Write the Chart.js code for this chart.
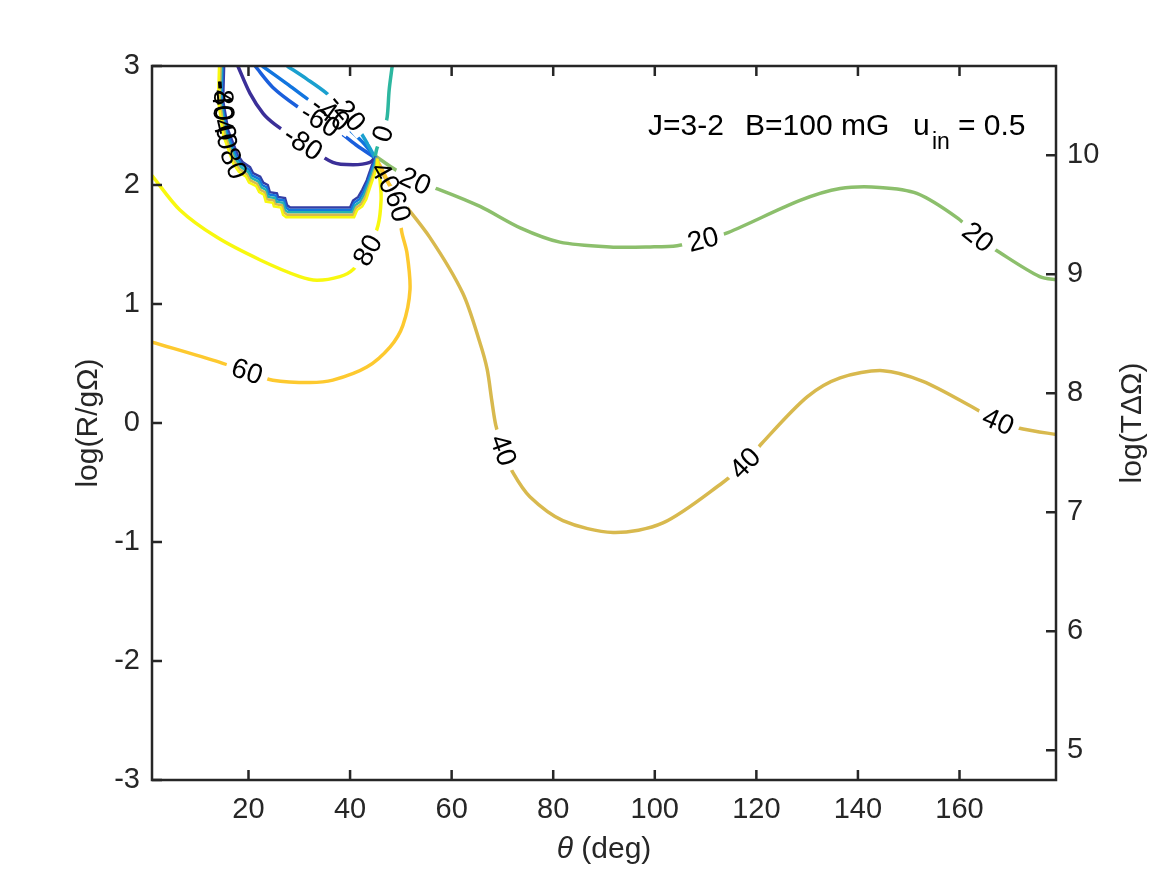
<!DOCTYPE html>
<html lang="en">
<head>
<meta charset="UTF-8">
<title>J=3-2 contours</title>
<script src="https://cdn.jsdelivr.net/npm/chart.js@4"></script>
<style>
    body { margin: 0; background: #fff; }
    canvas { display: block; }
</style>
</head>
<body>
<canvas id="plot" width="1167" height="875" style="width:1167px;height:875px"></canvas>
<script>
// tick positions
const xTicks = [20, 40, 60, 80, 100, 120, 140, 160];
const yTicks = [-3, -2, -1, 0, 1, 2, 3];
const y2Ticks = [5, 6, 7, 8, 9, 10];

// contour lines: x = theta (deg), y = log(R/gOmega)
const c20X = [45.1, 48.5, 52.8, 57.7, 65.6, 73.5, 81.3, 91.2, 99.1, 104.4, 109.5, 114.4, 128.6, 136.5, 144.3, 151.6, 159.7, 163.6, 168.0, 175.8, 179.5];
const c20Y = [2.24, 2.14, 2.03, 1.96, 1.82, 1.64, 1.52, 1.48, 1.48, 1.49, 1.54, 1.60, 1.87, 1.97, 1.98, 1.93, 1.72, 1.56, 1.43, 1.23, 1.20];

const c40X = [45.1, 46.9, 49.2, 55.7, 62.2, 65.6, 67.0, 67.9, 68.7, 70.1, 72.1, 75.4, 81.9, 91.8, 101.6, 113.4, 117.8, 121.1, 130.0, 136.5, 144.9, 152.8, 162.7, 167.6, 172.5, 179.5];
const c40Y = [2.23, 2.06, 1.92, 1.56, 1.09, 0.67, 0.45, 0.19, -0.02, -0.23, -0.42, -0.62, -0.82, -0.92, -0.84, -0.50, -0.34, -0.17, 0.22, 0.38, 0.44, 0.35, 0.13, 0.01, -0.05, -0.10];

const c60X = [1.0, 14.4, 19.7, 24.8, 32.1, 36.6, 43.3, 47.9, 50.4, 51.8, 51.2, 50.2, 49.4, 46.9, 45.3];
const c60Y = [0.68, 0.51, 0.43, 0.36, 0.34, 0.36, 0.47, 0.64, 0.82, 1.12, 1.43, 1.60, 1.82, 2.08, 2.21];

const c80X = [1.0, 6.5, 13.8, 22.3, 30.1, 33.5, 38.0, 40.6, 43.5, 45.5, 46.1, 45.9, 45.3];
const c80Y = [2.08, 1.79, 1.56, 1.37, 1.23, 1.20, 1.23, 1.29, 1.45, 1.66, 1.87, 2.04, 2.19];

// the fan of negative levels in the upper left
const m80X = [17.9, 20.3, 22.9, 25.2, 30.7, 36.6, 40.6, 43.9, 45.1];
const m80Y = [3.00, 2.77, 2.60, 2.51, 2.35, 2.19, 2.17, 2.19, 2.24];
const m60X = [21.3, 24.8, 29.6, 34.1, 38.0, 41.4, 44.9];
const m60Y = [3.00, 2.82, 2.66, 2.54, 2.44, 2.33, 2.23];
const m40X = [22.7, 27.6, 31.7, 36.1, 40.0, 42.9, 44.9];
const m40Y = [3.00, 2.85, 2.72, 2.60, 2.46, 2.34, 2.23];
const m20X = [27.6, 31.5, 35.1, 39.4, 42.4, 43.9, 44.9];
const m20Y = [3.00, 2.89, 2.78, 2.61, 2.42, 2.31, 2.23];
const z0X = [48.3, 47.7, 47.3, 46.5, 45.3, 44.9];
const z0Y = [3.00, 2.80, 2.57, 2.43, 2.31, 2.23];

// stacked lines along the stepped boundary
const bM80X = [15.2, 15.0, 16.0, 17.9, 18.9, 20.3, 20.9, 22.3, 22.9, 23.8, 24.2, 25.6, 25.8, 27.2, 27.6, 28.2, 40.0, 40.6, 41.6, 42.4, 43.3, 44.5, 45.1];
const bM80Y = [3.00, 2.71, 2.46, 2.25, 2.19, 2.15, 2.10, 2.07, 2.02, 2.00, 1.94, 1.93, 1.90, 1.89, 1.83, 1.81, 1.81, 1.87, 1.90, 1.96, 2.04, 2.19, 2.24];
const bM40X = [14.9, 14.7, 15.7, 17.6, 18.7, 20.1, 20.7, 22.1, 22.7, 23.6, 24.0, 25.4, 25.6, 27.0, 27.4, 28.0, 40.2, 40.8, 41.8, 42.6, 43.5, 44.7, 45.2];
const bM40Y = [3.00, 2.71, 2.45, 2.24, 2.17, 2.13, 2.08, 2.05, 2.00, 1.98, 1.92, 1.91, 1.88, 1.87, 1.81, 1.79, 1.79, 1.85, 1.88, 1.94, 2.03, 2.18, 2.24];
const b0X = [14.7, 14.5, 15.5, 17.4, 18.5, 19.9, 20.5, 21.9, 22.5, 23.4, 23.8, 25.2, 25.4, 26.8, 27.2, 27.8, 40.4, 41.0, 42.0, 42.8, 43.7, 44.9, 45.2];
const b0Y = [3.00, 2.71, 2.44, 2.22, 2.15, 2.11, 2.06, 2.03, 1.98, 1.96, 1.90, 1.89, 1.86, 1.85, 1.79, 1.77, 1.77, 1.83, 1.86, 1.92, 2.02, 2.17, 2.23];
const b40X = [14.5, 14.3, 15.3, 17.2, 18.3, 19.7, 20.3, 21.7, 22.3, 23.2, 23.6, 25.0, 25.2, 26.6, 27.0, 27.6, 40.6, 41.2, 42.2, 43.0, 43.9, 45.1, 45.3];
const b40Y = [3.00, 2.71, 2.43, 2.20, 2.13, 2.09, 2.04, 2.01, 1.96, 1.94, 1.88, 1.87, 1.84, 1.83, 1.77, 1.75, 1.75, 1.81, 1.84, 1.90, 2.01, 2.16, 2.23];
const b80X = [14.2, 14.0, 15.0, 17.0, 18.1, 19.5, 20.1, 21.5, 22.1, 23.0, 23.4, 24.8, 25.0, 26.4, 26.8, 27.4, 40.8, 41.4, 42.4, 43.2, 44.1, 45.3, 45.4];
const b80Y = [3.00, 2.71, 2.42, 2.18, 2.11, 2.07, 2.02, 1.99, 1.94, 1.92, 1.86, 1.85, 1.82, 1.81, 1.75, 1.73, 1.73, 1.79, 1.82, 1.88, 2.00, 2.15, 2.22];

// contour labels: [line, point index, text, break the line]
const contourLabels = [
    ['c20', 2, '20', true], ['c20', 10, '20', true], ['c20', 17, '20', true],
    ['c40', 1, '40', false], ['c40', 9, '40', true], ['c40', 16, '40', true], ['c40', 23, '40', true],
    ['c60', 2, '60', true], ['c60', 12, '60', true],
    ['c80', 8, '80', true],
    ['m80', 4, '-80', true], ['m60', 3, '-60', true], ['m40', 3, '-40', true], ['m20', 3, '-20', true], ['z0', 3, '0', true],
    ['bM80', 1, '-80', false], ['bM40', 1, '-40', false], ['b0', 2, '0', false], ['b40', 2, '40', false], ['b80', 3, '80', false]
];

const lines = {
    b80: [b80X, b80Y], b40: [b40X, b40Y], b0: [b0X, b0Y], bM40: [bM40X, bM40Y], bM80: [bM80X, bM80Y],
    c80: [c80X, c80Y], c60: [c60X, c60Y], c40: [c40X, c40Y], c20: [c20X, c20Y],
    z0: [z0X, z0Y], m20: [m20X, m20Y], m40: [m40X, m40Y], m60: [m60X, m60Y], m80: [m80X, m80Y]
};

// line colours (parula-like)
const colours = {
    b80: '#f8f80f', b40: '#d8b94e', b0: '#27b4b0', bM40: '#1477de', bM80: '#343fa6',
    c80: '#f8f80f', c60: '#fdc92f', c40: '#d8b94e', c20: '#8cbf6c',
    z0: '#2db7a0', m20: '#1aa0cf', m40: '#1275df', m60: '#1a5fdc', m80: '#3b2f98'
};

const FONT = "'Liberation Sans', Arial, Helvetica, sans-serif";
const INK = '#262626';

const datasets = Object.keys(lines).map(key => {
    const [xs, ys] = lines[key];
    const stepped = key.charAt(0) === 'b';
    return {
        label: key,
        data: xs.map((x, i) => ({ x: x, y: ys[i] })),
        showLine: true,
        borderColor: colours[key],
        borderWidth: stepped ? 2.5 : 3.5,
        pointRadius: 0,
        tension: stepped ? 0 : 0.3
    };
});

const decor = {
    id: 'decor',
    afterDatasetsDraw(chart) {
        const ctx = chart.ctx;
        const sx = chart.scales.x, sy = chart.scales.y;
        ctx.save();
        ctx.font = '28px ' + FONT;
        const placed = contourLabels.map(([key, i, txt, gap]) => {
            const [xs, ys] = lines[key];
            const px = sx.getPixelForValue(xs[i]), py = sy.getPixelForValue(ys[i]);
            const dx = sx.getPixelForValue(xs[i + 1]) - sx.getPixelForValue(xs[i - 1]);
            const dy = sy.getPixelForValue(ys[i + 1]) - sy.getPixelForValue(ys[i - 1]);
            let ang = Math.atan2(dy, dx);
            if (ang > Math.PI / 2) ang -= Math.PI;
            if (ang <= -Math.PI / 2) ang += Math.PI;
            return { px, py, ang, txt, gap };
        });
        // white gaps first, then the text, so no box hides a label
        placed.forEach(l => {
            if (!l.gap) return;
            const w = ctx.measureText(l.txt).width;
            ctx.save();
            ctx.translate(l.px, l.py);
            ctx.rotate(l.ang);
            ctx.fillStyle = '#fff';
            ctx.fillRect(-w / 2 - 6, -10, w + 12, 20);
            ctx.restore();
        });
        placed.forEach(l => {
            ctx.save();
            ctx.translate(l.px, l.py);
            ctx.rotate(l.ang);
            ctx.fillStyle = '#000';
            ctx.textAlign = 'center';
            ctx.textBaseline = 'middle';
            ctx.fillText(l.txt, 0, 1);
            ctx.restore();
        });
        ctx.restore();
    },
    afterDraw(chart) {
        const ctx = chart.ctx;
        const a = chart.chartArea;
        const sx = chart.scales.x, sy = chart.scales.y, sy2 = chart.scales.y2;
        const tick = 10;
        ctx.save();
        ctx.strokeStyle = INK;
        ctx.lineWidth = 2.5;
        ctx.strokeRect(a.left, a.top, a.right - a.left, a.bottom - a.top);
        ctx.beginPath();
        xTicks.forEach(v => {
            const p = sx.getPixelForValue(v);
            ctx.moveTo(p, a.bottom); ctx.lineTo(p, a.bottom - tick);
            ctx.moveTo(p, a.top); ctx.lineTo(p, a.top + tick);
        });
        yTicks.forEach(v => {
            const p = sy.getPixelForValue(v);
            ctx.moveTo(a.left, p); ctx.lineTo(a.left + tick, p);
        });
        y2Ticks.forEach(v => {
            const p = sy2.getPixelForValue(v);
            ctx.moveTo(a.right, p); ctx.lineTo(a.right - tick, p);
        });
        ctx.stroke();

        // axis titles
        ctx.fillStyle = INK;
        ctx.font = '30px ' + FONT;
        ctx.textBaseline = 'alphabetic';
        ctx.textAlign = 'center';
        ctx.save();
        ctx.translate(a.left - 55, (a.top + a.bottom) / 2);
        ctx.rotate(-Math.PI / 2);
        ctx.fillText('log(R/g\u03A9)', 0, 0);
        ctx.restore();
        ctx.save();
        ctx.translate(a.right + 85, (a.top + a.bottom) / 2);
        ctx.rotate(-Math.PI / 2);
        ctx.fillText('log(T\u0394\u03A9)', 0, 0);
        ctx.restore();

        const cx = (a.left + a.right) / 2;
        ctx.textAlign = 'left';
        ctx.font = 'italic 30px ' + FONT;
        const wTheta = ctx.measureText('\u03B8 ').width;
        ctx.font = '30px ' + FONT;
        const wRest = ctx.measureText('(deg)').width;
        const x0 = cx - (wTheta + wRest) / 2;
        ctx.font = 'italic 30px ' + FONT;
        ctx.fillText('\u03B8', x0, a.bottom + 78);
        ctx.font = '30px ' + FONT;
        ctx.fillText('(deg)', x0 + wTheta, a.bottom + 78);

        // annotation in the upper right
        ctx.fillStyle = '#000';
        ctx.font = '30px ' + FONT;
        const base = a.top + 69;
        ctx.fillText('J=3-2', a.left + 496, base);
        ctx.fillText('B=100 mG', a.left + 593, base);
        ctx.fillText('u', a.left + 761, base);
        ctx.fillText('= 0.5', a.left + 806, base);
        ctx.font = '23px ' + FONT;
        ctx.fillText('in', a.left + 780, base + 14);
        ctx.restore();
    }
};

const tickFont = { family: FONT, size: 29 };

new Chart(document.getElementById('plot'), {
    type: 'scatter',
    data: { datasets: datasets },
    options: {
        responsive: false,
        animation: false,
        devicePixelRatio: 1,
        layout: { padding: { top: 66 } },
        plugins: { legend: { display: false }, tooltip: { enabled: false } },
        scales: {
            x: {
                type: 'linear', min: 1, max: 179,
                grid: { display: false, drawTicks: false }, border: { display: false },
                ticks: { font: tickFont, color: INK, padding: 13, maxRotation: 0, autoSkip: false },
                afterBuildTicks: s => { s.ticks = xTicks.map(v => ({ value: v })); },
                afterFit: s => { s.height = 95; }
            },
            y: {
                type: 'linear', position: 'left', min: -3, max: 3,
                grid: { display: false, drawTicks: false }, border: { display: false },
                ticks: { font: tickFont, color: INK, padding: 12, autoSkip: false },
                afterBuildTicks: s => { s.ticks = yTicks.map(v => ({ value: v })); },
                afterFit: s => { s.width = 152; }
            },
            y2: {
                type: 'linear', position: 'right', min: 4.75, max: 10.75,
                grid: { display: false, drawTicks: false }, border: { display: false },
                ticks: { font: tickFont, color: INK, padding: 11, autoSkip: false },
                afterBuildTicks: s => { s.ticks = y2Ticks.map(v => ({ value: v })); },
                afterFit: s => { s.width = 111; }
            }
        }
    },
    plugins: [decor]
});
</script>
</body>
</html>
